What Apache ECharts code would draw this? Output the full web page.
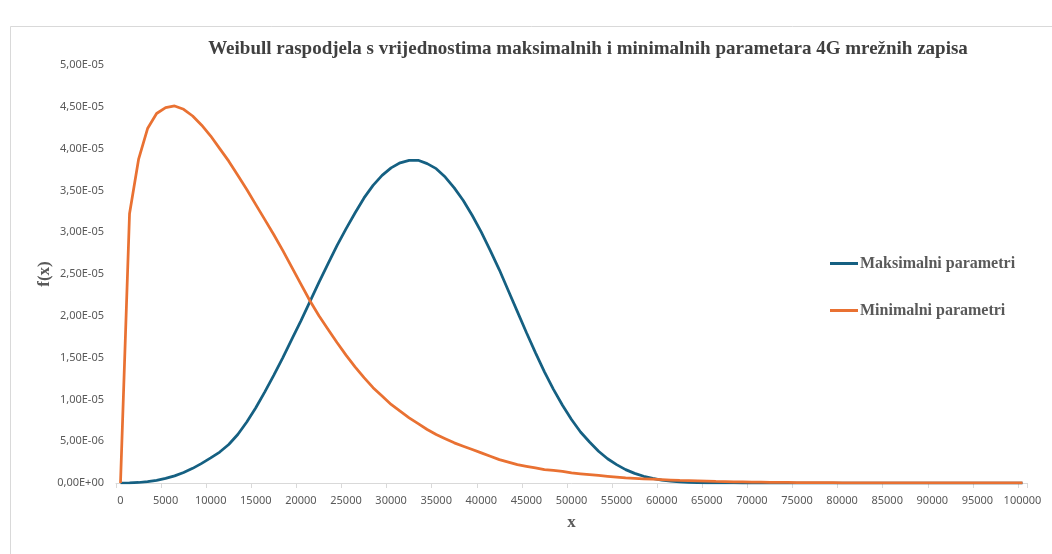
<!DOCTYPE html>
<html>
<head>
<meta charset="utf-8">
<script src="https://cdn.jsdelivr.net/npm/echarts@6/dist/echarts.min.js"></script>
<style>
html,body{margin:0;padding:0;background:#fff;}
#chart{width:1052px;height:554px;}
</style>
</head>
<body>
<div id="chart"></div>
<script>
const categories = ['0','1000','2000','3000','4000','5000','6000','7000','8000','9000',
'10000','11000','12000','13000','14000','15000','16000','17000','18000','19000',
'20000','21000','22000','23000','24000','25000','26000','27000','28000','29000',
'30000','31000','32000','33000','34000','35000','36000','37000','38000','39000',
'40000','41000','42000','43000','44000','45000','46000','47000','48000','49000',
'50000','51000','52000','53000','54000','55000','56000','57000','58000','59000',
'60000','61000','62000','63000','64000','65000','66000','67000','68000','69000',
'70000','71000','72000','73000','74000','75000','76000','77000','78000','79000',
'80000','81000','82000','83000','84000','85000','86000','87000','88000','89000',
'90000','91000','92000','93000','94000','95000','96000','97000','98000','99000',
'100000'];

const maksimalni = [0,0.001e-5,0.006e-5,0.016e-5,0.032e-5,0.055e-5,0.085e-5,0.125e-5,0.175e-5,0.235e-5,
0.30e-5,0.37e-5,0.46e-5,0.58e-5,0.73e-5,0.90e-5,1.09e-5,1.29e-5,1.50e-5,1.72e-5,
1.94e-5,2.17e-5,2.40e-5,2.62e-5,2.84e-5,3.04e-5,3.23e-5,3.41e-5,3.56e-5,3.68e-5,
3.77e-5,3.83e-5,3.86e-5,3.86e-5,3.82e-5,3.76e-5,3.66e-5,3.53e-5,3.38e-5,3.20e-5,
3.00e-5,2.78e-5,2.55e-5,2.30e-5,2.05e-5,1.80e-5,1.56e-5,1.33e-5,1.12e-5,0.93e-5,
0.76e-5,0.61e-5,0.49e-5,0.38e-5,0.29e-5,0.22e-5,0.16e-5,0.115e-5,0.08e-5,0.055e-5,
0.035e-5,0.021e-5,0.012e-5,0.007e-5,0.0035e-5,0.0018e-5,0.0008e-5,0.0003e-5,0.0001e-5,0,
0,0,0,0,0,0,0,0,0,0,
0,0,0,0,0,0,0,0,0,0,
0,0,0,0,0,0,0,0,0,0,
0];

const minimalni = [0,3.22e-5,3.87e-5,4.24e-5,4.42e-5,4.49e-5,4.51e-5,4.47e-5,4.39e-5,4.28e-5,
4.15e-5,4.00e-5,3.85e-5,3.68e-5,3.51e-5,3.33e-5,3.15e-5,2.97e-5,2.78e-5,2.58e-5,
2.38e-5,2.18e-5,2.00e-5,1.84e-5,1.68e-5,1.53e-5,1.39e-5,1.26e-5,1.14e-5,1.04e-5,
0.94e-5,0.86e-5,0.78e-5,0.71e-5,0.64e-5,0.58e-5,0.53e-5,0.48e-5,0.44e-5,0.40e-5,
0.36e-5,0.32e-5,0.28e-5,0.25e-5,0.22e-5,0.20e-5,0.18e-5,0.16e-5,0.15e-5,0.14e-5,
0.12e-5,0.11e-5,0.10e-5,0.09e-5,0.08e-5,0.07e-5,0.06e-5,0.055e-5,0.05e-5,0.045e-5,
0.04e-5,0.035e-5,0.03e-5,0.027e-5,0.024e-5,0.021e-5,0.018e-5,0.016e-5,0.014e-5,0.012e-5,
0.010e-5,0.009e-5,0.008e-5,0.007e-5,0.006e-5,0.005e-5,0.0045e-5,0.004e-5,0.0035e-5,0.003e-5,
0.0026e-5,0.0022e-5,0.0019e-5,0.0016e-5,0.0014e-5,0.0012e-5,0.001e-5,0.0009e-5,0.0008e-5,0.0007e-5,
0.0006e-5,0.0005e-5,0.0004e-5,0.00035e-5,0.0003e-5,0.00025e-5,0.0002e-5,0.00017e-5,0.00014e-5,0.00012e-5,
0.0001e-5];

const yTickLabels = ['0,00E+00','5,00E-06','1,00E-05','1,50E-05','2,00E-05','2,50E-05','3,00E-05','3,50E-05','4,00E-05','4,50E-05','5,00E-05'];

const chart = echarts.init(document.getElementById('chart'), null, {renderer:'canvas'});
const serif = '"Liberation Serif","Times New Roman",serif';
const sans = '"Noto Sans","Open Sans",sans-serif';
chart.setOption({
  animation:false,
  backgroundColor:'#ffffff',
  graphic:[{
    type:'rect', left:8, top:24, silent:true,
    shape:{x:0.5,y:0.5,width:1100,height:600},
    style:{fill:'none',stroke:'#d9d9d9',lineWidth:1}
  }],
  title:{
    text:'Weibull raspodjela s vrijednostima maksimalnih i minimalnih parametara 4G mrežnih zapisa',
    left:583, top:35, textAlign:'center',
    textStyle:{fontFamily:serif,fontWeight:'bold',fontSize:19,color:'#404040'}
  },
  legend:{
    orient:'vertical', left:830, top:255, itemGap:30, padding:0,
    itemWidth:28, itemHeight:3, icon:'rect',
    textStyle:{fontFamily:serif,fontWeight:'bold',fontSize:16,color:'#595959',lineHeight:17,padding:[0,0,0,-3]},
    data:['Maksimalni parametri','Minimalni parametri']
  },
  grid:{left:116, right:25, top:65, bottom:71, containLabel:false},
  xAxis:{
    type:'category', data:categories, boundaryGap:true,
    name:'x', nameLocation:'middle', nameGap:31,
    nameTextStyle:{fontFamily:serif,fontWeight:'bold',fontSize:17,color:'#595959'},
    axisLine:{lineStyle:{color:'#d9d9d9',width:1}},
    axisTick:{show:true,interval:4,length:5,lineStyle:{color:'#d9d9d9'}},
    axisLabel:{interval:4,margin:12,fontFamily:sans,fontSize:11,color:'#595959'},
    splitLine:{show:false}
  },
  yAxis:{
    type:'value', min:0, max:5e-5, interval:0.5e-5,
    name:'f(x)', nameLocation:'middle', nameGap:63, nameRotate:90, nameMoveOverlap:false,
    nameTextStyle:{fontFamily:serif,fontWeight:'bold',fontSize:17,color:'#595959'},
    axisLine:{show:false}, axisTick:{show:false}, splitLine:{show:false},
    axisLabel:{margin:12,fontFamily:sans,fontSize:11,color:'#595959',
      formatter:function(v){ const i=Math.round(v/0.5e-5); return yTickLabels[i]; }}
  },
  series:[
    {name:'Maksimalni parametri',type:'line',data:maksimalni,showSymbol:false,symbol:'none',
      lineStyle:{color:'#156082',width:2.75},itemStyle:{color:'#156082'},z:3},
    {name:'Minimalni parametri',type:'line',data:minimalni,showSymbol:false,symbol:'none',
      lineStyle:{color:'#E97132',width:2.75},itemStyle:{color:'#E97132'},z:4}
  ]
});
</script>
</body>
</html>
